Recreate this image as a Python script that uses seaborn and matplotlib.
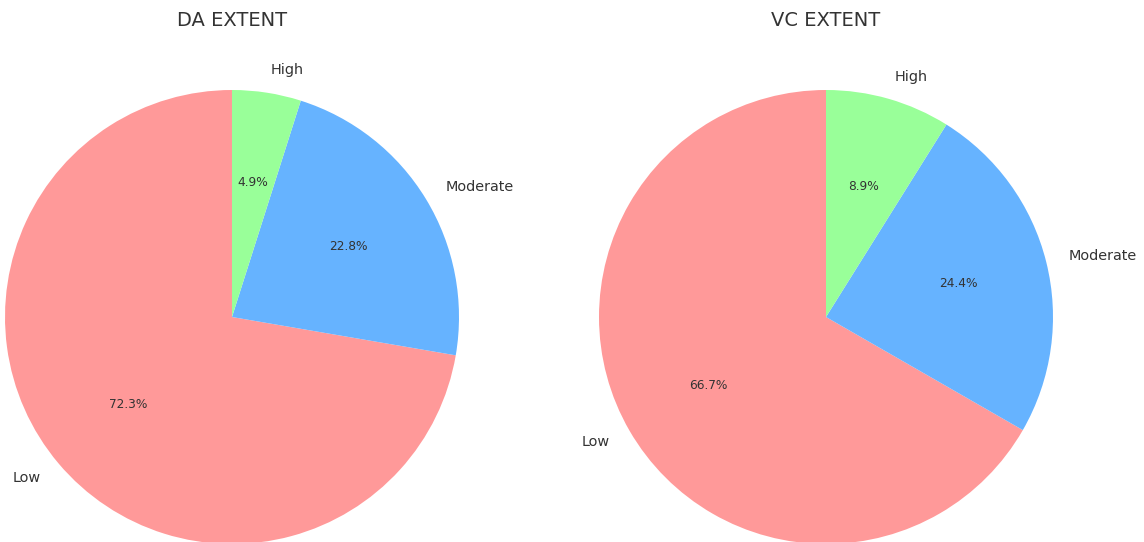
import matplotlib
matplotlib.use("Agg")
import matplotlib.pyplot as plt
import seaborn as sns

sns.set_theme(style="white")
plt.rcParams['font.family'] = ['DejaVu Sans']

categories = ["Low", "Moderate", "High"]
da_values = [72.3, 22.8, 4.9]
vc_values = [66.7, 24.4, 8.9]
titles = ["DA EXTENT", "VC EXTENT"]
colors = ["#ff9999", "#66b3ff", "#99ff99"]

W, H = 1144, 542
fig = plt.figure(figsize=(W / 100, H / 100), dpi=100)

centers = [(232, 317), (826, 317)]
R = 227
for (cx, cy), vals, title in zip(centers, [da_values, vc_values], titles):
    ax = fig.add_axes([(cx - R) / W, (H - cy - R) / H, 2 * R / W, 2 * R / H])
    wedges, texts, autotexts = ax.pie(vals, labels=categories, colors=colors,
                                      autopct='%1.1f%%', startangle=90,
                                      wedgeprops={'linewidth': 0, 'edgecolor': 'none'},
                                      textprops={'fontsize': 10.4, 'color': '#333333'})
    for t in autotexts:
        t.set_fontsize(8.7)
    ax.set_xlim(-1, 1)
    ax.set_ylim(-1, 1)
    ax.set_aspect('auto')
    ax.axis('off')
    fig.text(cx / W, 1 - 20 / H, title, ha='center', va='center',
             fontsize=14, color='#333333')

fig.savefig("out.png", dpi=100)
